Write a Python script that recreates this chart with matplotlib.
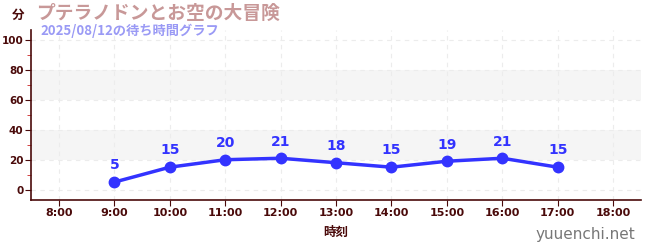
import matplotlib
matplotlib.use("Agg")
import matplotlib.pyplot as plt
from matplotlib.ticker import MultipleLocator

plt.rcParams['font.family'] = ['Noto Sans CJK JP', 'DejaVu Sans']

hours = [9, 10, 11, 12, 13, 14, 15, 16, 17]
waits = [5, 15, 20, 21, 18, 15, 19, 21, 15]
tick_hours = list(range(8, 19))
tick_labels = [f"{h}:00" for h in tick_hours]
title = "プテラノドンとお空の大冒険"
subtitle = "2025/08/12の待ち時間グラフ"

dark = "#4a0a0a"
blue = "#3333ff"

fig = plt.figure(figsize=(6.5, 2.5), dpi=100)
ax = fig.add_axes([0.048, 0.2, 0.938, 0.68])
ax.set_xlim(7.5, 18.5)
ax.set_ylim(-7, 107)

for lo, hi in [(20, 40), (60, 80)]:
    ax.axhspan(lo, hi, color="#f5f5f5", zorder=0, lw=0)

ax.grid(True, which="major", color="#ececec", linestyle=(0, (4, 4)), lw=0.8, zorder=0.5)

ax.plot(hours, waits, color=blue, lw=2.5, marker="o", ms=7.5, zorder=3)
for h, w in zip(hours, waits):
    ax.annotate(str(w), (h, w), xytext=(0, 7), textcoords="offset points",
                ha="center", va="bottom", color=blue, fontsize=10, fontweight="bold",
                family=['DejaVu Sans'])

ax.set_xticks(tick_hours)
ax.set_xticklabels(tick_labels)
ax.set_yticks([0, 20, 40, 60, 80, 100])
ax.yaxis.set_minor_locator(MultipleLocator(10))
ax.tick_params(axis="y", which="minor", length=3, color="#cc2222")
ax.tick_params(axis="both", which="major", length=4, color=dark, labelcolor=dark, labelsize=8)
ax.tick_params(axis="x", which="major", pad=1.5)
ax.tick_params(axis="y", which="major", pad=1.5, labelsize=7.5)
for lab in ax.get_xticklabels() + ax.get_yticklabels():
    lab.set_family(['DejaVu Sans'])
    lab.set_fontweight("bold")
for s in ["top", "right"]:
    ax.spines[s].set_visible(False)
for s in ["left", "bottom"]:
    ax.spines[s].set_color(dark)
    ax.spines[s].set_linewidth(1.2)

ax.set_xlabel("時刻", color=dark, fontsize=9, fontweight="bold", labelpad=6)

fig.text(0.028, 0.94, "分", color=dark, fontsize=9, fontweight="bold", ha="center", va="center")
fig.text(0.055, 0.945, title, color="#c89898", fontsize=13.5, fontweight="bold", ha="left", va="center")
fig.text(0.063, 0.875, subtitle, color="#9a9af5", fontsize=9.5, fontweight="bold", ha="left", va="center")
fig.text(0.977, 0.06, "yuuenchi.net", color="#777777", fontsize=11, ha="right", va="center",
         family=['DejaVu Sans'])

fig.savefig("out.png", dpi=100)
